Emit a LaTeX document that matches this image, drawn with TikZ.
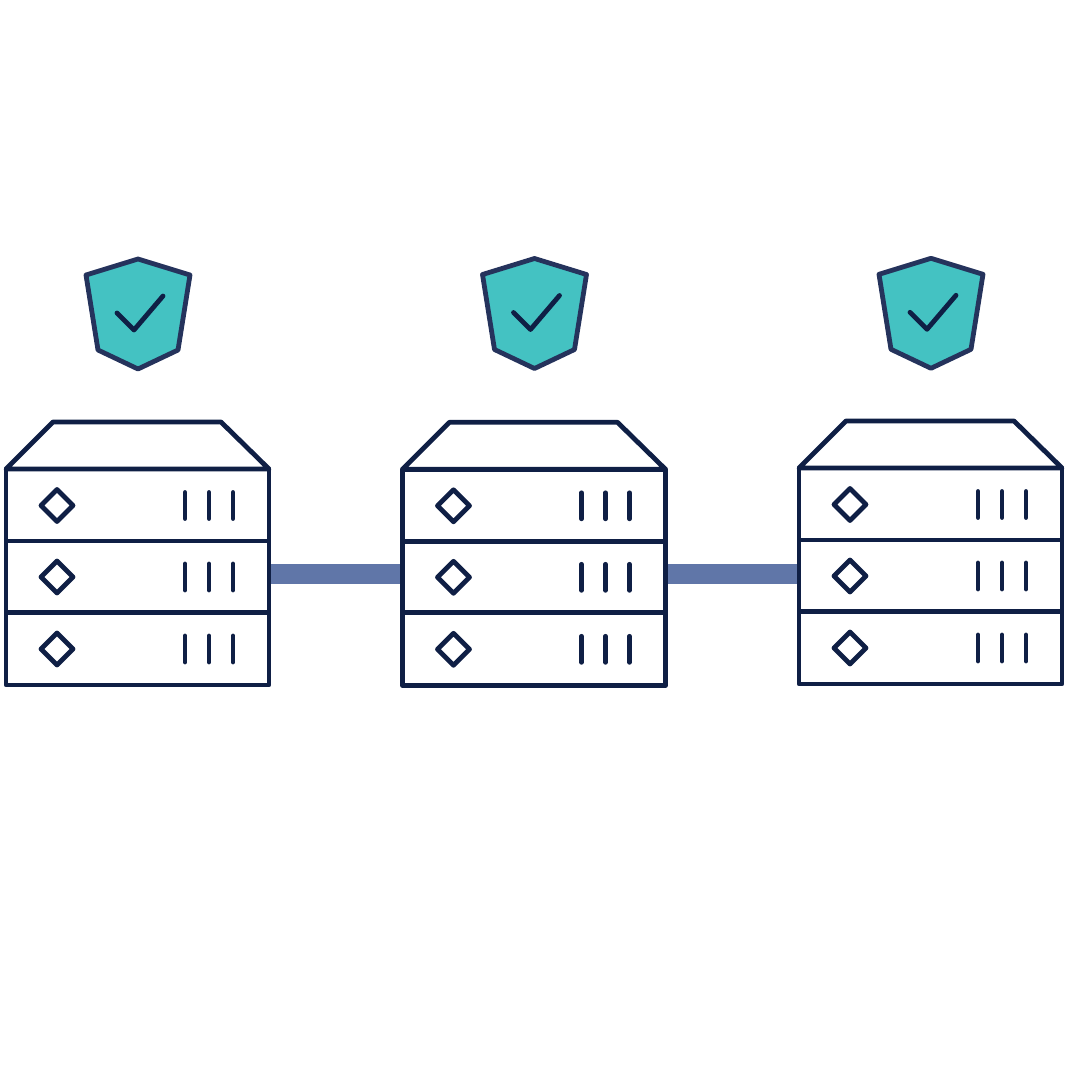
\documentclass[tikz,border=0pt]{standalone}
\usetikzlibrary{calc}
\definecolor{navy}{HTML}{0F1F45}
\definecolor{shieldline}{HTML}{25335C}
\definecolor{shieldfill}{HTML}{44C2C2}
\definecolor{linkblue}{HTML}{6076A8}
\tikzset{
  server body/.style={draw=navy,line width=4.8pt,fill=white,inner sep=0pt,minimum width=263pt,minimum height=216pt,line join=round},
  server line/.style={draw=navy,line width=4.8pt,line join=round},
  server slot/.style={draw=navy,line width=4.8pt,line cap=round},
  shield/.style={draw=shieldline,fill=shieldfill,line width=4.8pt,line join=round},
  tick/.style={draw=navy,line width=4.8pt,line cap=round,line join=round},
  link/.style={draw=linkblue,line width=20pt}
}
% one server with its shield, #1 name, #2 #3 offset, #4 shield offset
\newcommand{\serverstack}[4]{
\begin{scope}[shift={(#2,#3)}]
\begin{scope}[yshift=#4]
\draw[shield] (138,259) -- (190,275) -- (178,350) -- (138,369) -- (98,350) -- (86,275) -- cycle;
\draw[tick] (117,313) -- (134,330) -- (163,296);
\end{scope}
\node[server body] (#1) at (137.5,577) {};
\draw[server line] (53,422) -- (221,422) -- (269,469) -- (6,469) -- cycle;
\draw[server line] (6,541) -- (269,541);
\draw[server line] (6,612.5) -- (269,612.5);
\foreach \y in {505.5,577,649}{
  \draw[server line] (57,\y-16) -- (73,\y) -- (57,\y+16) -- (41,\y) -- cycle;
  \draw[server slot] (185,\y-13) -- (185,\y+13);
  \draw[server slot] (209,\y-13) -- (209,\y+13);
  \draw[server slot] (233,\y-13) -- (233,\y+13);
}
\end{scope}
}
\begin{document}
\begin{tikzpicture}[x=1pt,y=-1pt]
\useasboundingbox (0,0) rectangle (1080,1080);

\serverstack{left}{0}{0}{0pt}
\serverstack{middle}{396.5}{0.3}{0.8pt}
\serverstack{right}{793}{-1}{-0.3pt}

\draw[link] ([yshift=3.5pt]left.east) -- ([yshift=3.8pt]middle.west);
\draw[link] ([yshift=3.8pt]middle.east) -- ([yshift=2.5pt]right.west);
\end{tikzpicture}
\end{document}
